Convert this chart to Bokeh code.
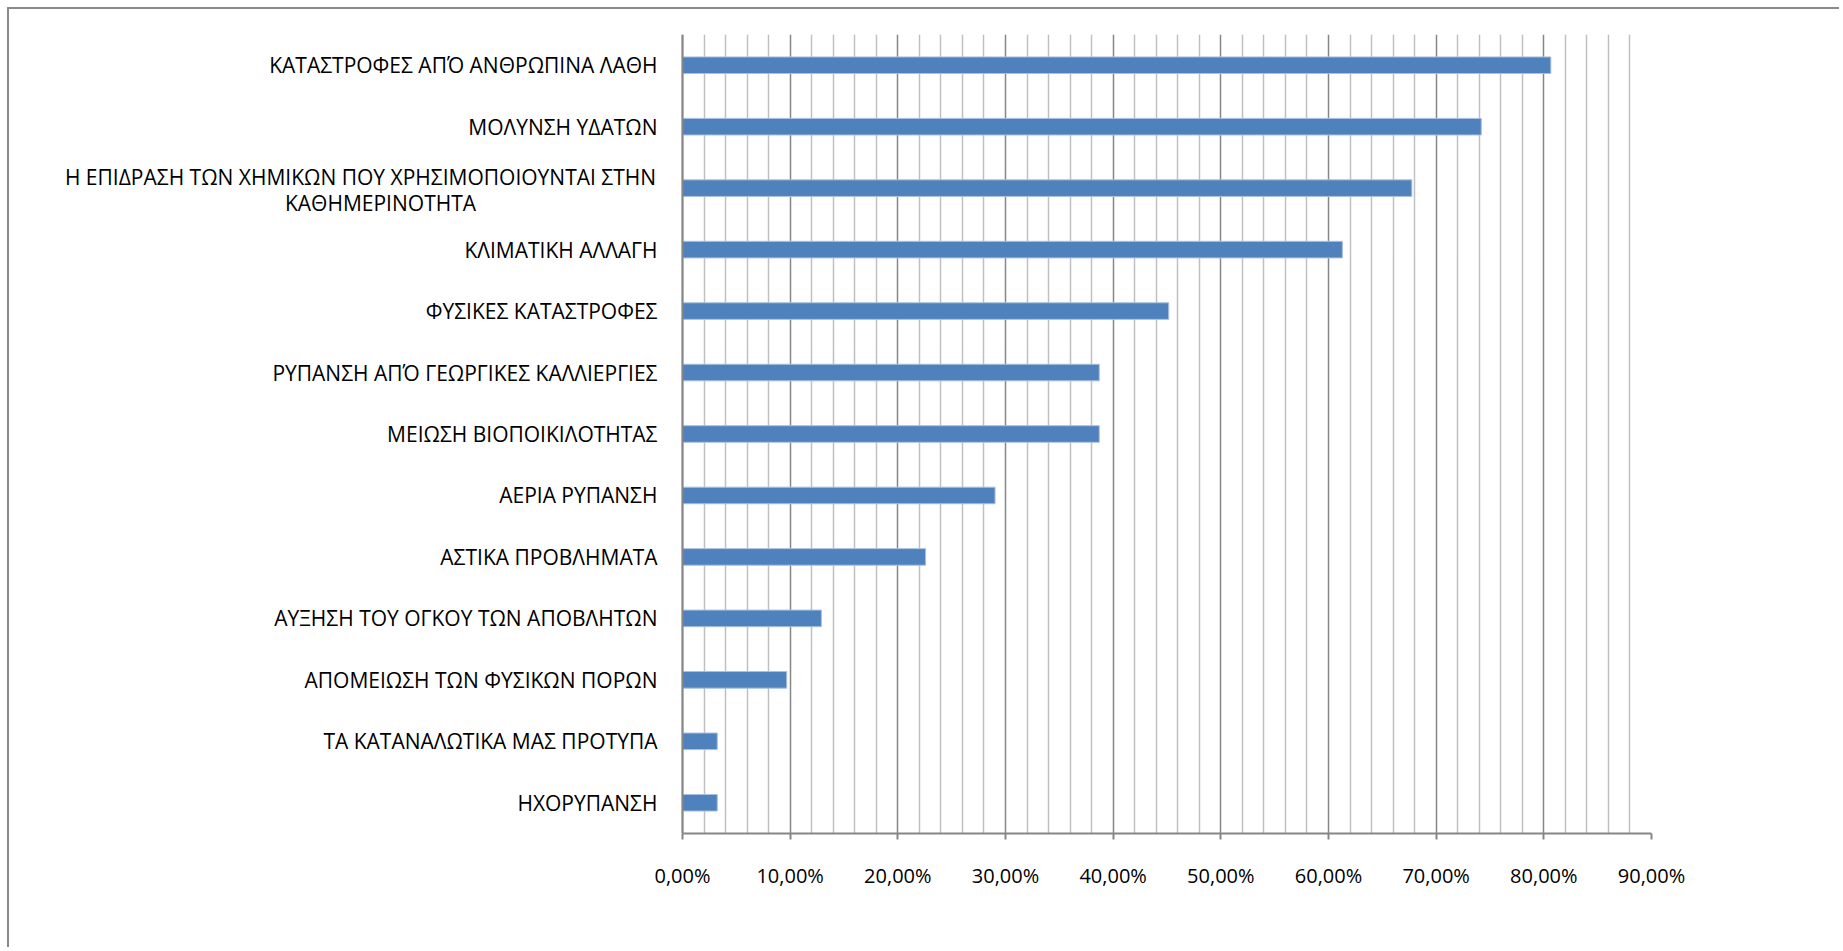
from bokeh.plotting import figure
from bokeh.models import FactorRange, Range1d, FixedTicker, ColumnDataSource, Span
from bokeh.core.properties import value
from bokeh.embed import file_html
from bokeh.resources import INLINE

categories = [
    "ΚΑΤΑΣΤΡΟΦΕΣ ΑΠΌ ΑΝΘΡΩΠΙΝΑ ΛΑΘΗ",
    "ΜΟΛΥΝΣΗ ΥΔΑΤΩΝ",
    "Η ΕΠΙΔΡΑΣΗ ΤΩΝ ΧΗΜΙΚΩΝ ΠΟΥ ΧΡΗΣΙΜΟΠΟΙΟΥΝΤΑΙ ΣΤΗΝ\nΚΑΘΗΜΕΡΙΝΟΤΗΤΑ",
    "ΚΛΙΜΑΤΙΚΗ ΑΛΛΑΓΗ",
    "ΦΥΣΙΚΕΣ ΚΑΤΑΣΤΡΟΦΕΣ",
    "ΡΥΠΑΝΣΗ ΑΠΌ ΓΕΩΡΓΙΚΕΣ ΚΑΛΛΙΕΡΓΙΕΣ",
    "ΜΕΙΩΣΗ ΒΙΟΠΟΙΚΙΛΟΤΗΤΑΣ",
    "ΑΕΡΙΑ ΡΥΠΑΝΣΗ",
    "ΑΣΤΙΚΑ ΠΡΟΒΛΗΜΑΤΑ",
    "ΑΥΞΗΣΗ ΤΟΥ ΟΓΚΟΥ ΤΩΝ ΑΠΟΒΛΗΤΩΝ",
    "ΑΠΟΜΕΙΩΣΗ ΤΩΝ ΦΥΣΙΚΩΝ ΠΟΡΩΝ",
    "ΤΑ ΚΑΤΑΝΑΛΩΤΙΚΑ ΜΑΣ ΠΡΟΤΥΠΑ",
    "ΗΧΟΡΥΠΑΝΣΗ",
]
values = [80.65, 74.19, 67.74, 61.29, 45.16, 38.71, 38.71, 29.03, 22.58, 12.90, 9.68, 3.23, 3.23]

x_ticks = [0, 10, 20, 30, 40, 50, 60, 70, 80, 90]
x_tick_labels = ["0,00%", "10,00%", "20,00%", "30,00%", "40,00%",
                 "50,00%", "60,00%", "70,00%", "80,00%", "90,00%"]
x_minor_ticks = [t for t in range(0, 91, 2) if t % 10 != 0]
x_max = x_ticks[-1]

# layout (page pixels): canvas left edge, value axis at 0 %, frame right edge
CANVAS_LEFT, AXIS_X, FRAME_RIGHT = 9, 682, 1651
x_start = -x_max * (AXIS_X - CANVAS_LEFT) / (FRAME_RIGHT - AXIS_X)

factors = categories[::-1]
bars = ColumnDataSource(data=dict(cat=categories, val=values))

single = [c for c in categories if "\n" not in c]
wrapped = [c for c in categories if "\n" in c][0]
wrapped_lines = wrapped.split("\n")
single_src = ColumnDataSource(data=dict(cat=single, txt=single, x=[0] * len(single)))
wrap_src = ColumnDataSource(data=dict(cat=[wrapped] * len(wrapped_lines), txt=wrapped_lines,
                                      x=[0] * len(wrapped_lines),
                                      dx=[-322, -302], dy=[-11, 15]))

p = figure(
    width=1832, height=940,
    y_range=FactorRange(factors=factors),
    x_range=Range1d(x_start, x_max),
    output_backend="svg", toolbar_location=None,
    min_border_left=0, min_border_right=190,
    min_border_top=25, min_border_bottom=116,
)
p.styles = {
    "margin-left": "7px", "margin-top": "7px",
    "border-left": "2px solid #898989", "border-top": "2px solid #898989",
}
p.outline_line_color = None
p.background_fill_color = "white"
p.border_fill_color = "white"

ticker = FixedTicker(ticks=x_ticks, minor_ticks=x_minor_ticks)
p.xaxis.ticker = ticker
p.xgrid.ticker = ticker
p.xaxis.bounds = (0, x_max)
p.xaxis.major_label_overrides = dict(zip(x_ticks, x_tick_labels))
p.xgrid.grid_line_color = "#868686"
p.xgrid.grid_line_width = 1.5
p.xgrid.minor_grid_line_color = "#C0C0C0"
p.xgrid.minor_grid_line_width = 1.5
p.ygrid.grid_line_color = None

p.xaxis.axis_line_color = "#868686"
p.xaxis.axis_line_width = 2
p.xaxis.major_tick_line_color = "#868686"
p.xaxis.major_tick_line_width = 2
p.xaxis.major_tick_out = 6
p.xaxis.major_tick_in = 0
p.xaxis.minor_tick_line_color = None
p.xaxis.major_label_standoff = 22
p.xaxis.major_label_text_font = "Open Sans"
p.xaxis.major_label_text_font_size = "20px"
p.xaxis.major_label_text_color = "black"

p.yaxis.visible = False
p.add_layout(Span(location=0, dimension="height", line_color="#868686", line_width=2))

p.hbar(y="cat", right="val", left=0, height=0.27, source=bars,
       fill_color="#4F81BD", line_color="#A9C1E0", line_width=1)

# category labels
p.text(x="x", y="cat", text="txt", source=single_src,
       x_offset=-25, text_align="right", text_baseline="middle",
       text_font=value("Open Sans"), text_font_size=value("21px"), text_color="black")
p.text(x="x", y="cat", text="txt", source=wrap_src,
       x_offset="dx", y_offset="dy", text_align="center", text_baseline="middle",
       text_font=value("Open Sans"), text_font_size=value("21px"), text_color="black")

open("out.html", "w").write(file_html(p, INLINE))
